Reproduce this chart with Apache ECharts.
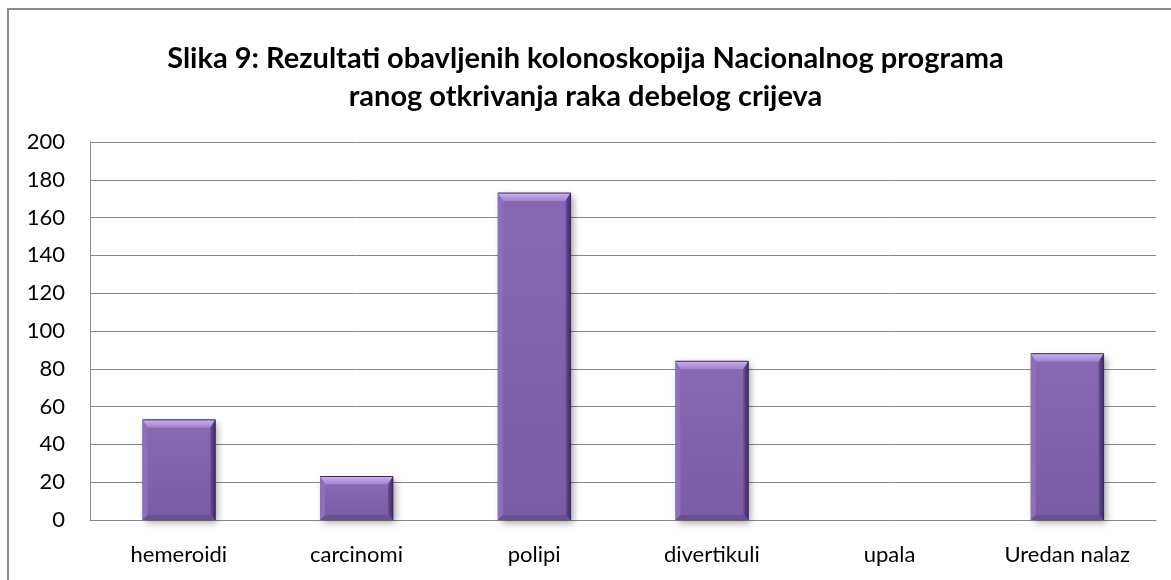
<!DOCTYPE html>
<html>
<head>
<meta charset="utf-8">
<script src="https://cdn.jsdelivr.net/npm/echarts@6/dist/echarts.min.js"></script>
<style>
  html, body { margin: 0; padding: 0; background: #fff; }
  #chart { width: 1171px; height: 580px; }
</style>
</head>
<body>
<div id="chart"></div>
<script>
// Results of colonoscopies in the national colorectal cancer screening programme
const titleLines = [
  'Slika 9: Rezultati obavljenih kolonoskopija Nacionalnog programa',
  'ranog otkrivanja raka debelog crijeva'
];
const categories = ['hemeroidi', 'carcinomi', 'polipi', 'divertikuli', 'upala', 'Uredan nalaz'];
const counts = [53, 23, 173, 84, 0, 88];
const yTicks = [0, 20, 40, 60, 80, 100, 120, 140, 160, 180, 200];

const FONT = 'Lato, "Open Sans", sans-serif';
const GRID_COLOR = '#878787';

// Bevelled purple column, drawn from the axis coordinates of each value
function renderBevelBar(params, api) {
  const idx = api.value(0);
  const val = api.value(1);
  if (!val) return { type: 'group', children: [] };
  const top = api.coord([idx, val]);
  const base = api.coord([idx, 0]);
  const w = api.size([1, 0])[0] * 0.41;
  const x0 = top[0] - w / 2, x1 = top[0] + w / 2;
  const y0 = top[1], y1 = base[1];
  const h = y1 - y0;
  const b = Math.min(8, h / 3);      // top bevel depth
  const bs = Math.min(5, h / 3);     // side bevel
  const poly = (pts, fill) => ({ type: 'polygon', shape: { points: pts }, style: { fill: fill } });
  return {
    type: 'group',
    children: [
      { type: 'rect', shape: { x: x0, y: y0, width: w, height: h },
        style: { fill: '#8062AA', shadowBlur: 7, shadowOffsetX: 3, shadowOffsetY: 3, shadowColor: 'rgba(0,0,0,0.35)' } },
      // face
      { type: 'rect', shape: { x: x0 + bs, y: y0 + b, width: w - 2 * bs, height: h - b - bs },
        style: { fill: new echarts.graphic.LinearGradient(0, 0, 0, 1, [
          { offset: 0, color: '#8868B2' }, { offset: 1, color: '#7A5CA4' }]) } },
      // top bevel
      poly([[x0, y0], [x1, y0], [x1 - bs, y0 + b], [x0 + bs, y0 + b]],
        new echarts.graphic.LinearGradient(0, 0, 0, 1, [
          { offset: 0, color: '#CDB0F4' }, { offset: 1, color: '#9E80CC' }])),
      // left bevel
      poly([[x0, y0], [x0 + bs, y0 + b], [x0 + bs, y1 - bs], [x0, y1]], '#8E70BA'),
      // right bevel
      poly([[x1, y0], [x1, y1], [x1 - bs, y1 - bs], [x1 - bs, y0 + b]],
        new echarts.graphic.LinearGradient(0, 0, 1, 0, [
          { offset: 0, color: '#6A4E94' }, { offset: 1, color: '#3E2D62' }])),
      // bottom bevel
      poly([[x0, y1], [x0 + bs, y1 - bs], [x1 - bs, y1 - bs], [x1, y1]], '#6B4F95'),
      // thin outline on the top and right edges
      { type: 'polyline', shape: { points: [[x0, y0], [x1, y0], [x1, y1]] },
        style: { stroke: '#3A2A5C', lineWidth: 1, fill: null } }
    ]
  };
}

const chart = echarts.init(document.getElementById('chart'), null, { renderer: 'canvas' });
chart.setOption({
  backgroundColor: '#ffffff',
  animation: false,
  graphic: [
    { type: 'rect', shape: { x: 8, y: 9, width: 1200, height: 620 },
      style: { fill: null, stroke: '#8a8a8a', lineWidth: 2 }, silent: true },
    { type: 'text', left: 'center', top: 40,
      style: { text: titleLines.join('\n'), font: 'bold 29px ' + FONT, fill: '#000',
               textAlign: 'center', lineHeight: 38 } }
  ],
  grid: { left: 90, right: 15, top: 142, bottom: 60 },
  xAxis: {
    type: 'category',
    data: categories,
    boundaryGap: true,
    axisLine: { show: true, lineStyle: { color: GRID_COLOR, width: 1 } },
    axisTick: { show: false },
    axisLabel: { color: '#000', fontFamily: FONT, fontSize: 22, margin: 24 }
  },
  yAxis: {
    type: 'value',
    min: yTicks[0],
    max: yTicks[yTicks.length - 1],
    interval: yTicks[1] - yTicks[0],
    axisLine: { show: true, lineStyle: { color: GRID_COLOR, width: 1 } },
    axisTick: { show: false },
    splitLine: { show: true, lineStyle: { color: GRID_COLOR, width: 1 } },
    axisLabel: { color: '#000', fontFamily: FONT, fontSize: 22, margin: 25 }
  },
  series: [{
    type: 'custom',
    renderItem: renderBevelBar,
    encode: { x: 0, y: 1 },
    data: counts.map((v, i) => [i, v])
  }]
});
</script>
</body>
</html>
